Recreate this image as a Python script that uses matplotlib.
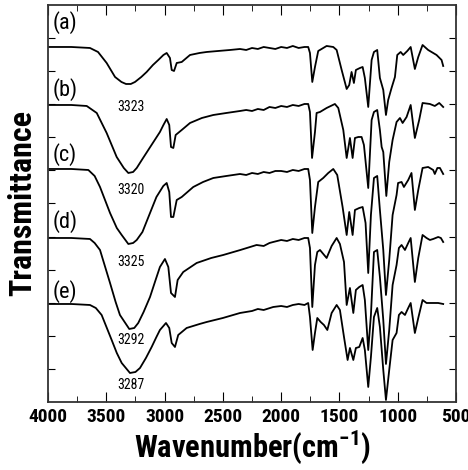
import matplotlib.pyplot as plt
from matplotlib import font_manager
import numpy as np

# FTIR spectra, transmittance in arbitrary units (stacked curves)
wn_a = [4000, 3800, 3640, 3571, 3497, 3425, 3370, 3331, 3290, 3254, 3200, 3154, 3100, 3054, 3010, 2982,
        2954, 2939, 2919, 2896, 2853, 2782, 2700, 2639, 2540, 2439, 2353, 2300, 2250, 2200, 2150, 2100,
        2050, 2000, 1950, 1900, 1850, 1800, 1768, 1753, 1733, 1710, 1682, 1639, 1610, 1553, 1524, 1481,
        1438, 1416, 1396, 1376, 1359, 1324, 1301, 1282, 1253, 1224, 1204, 1176, 1153, 1124, 1101, 1082,
        1053, 1024, 1004, 975, 953, 918, 889, 853, 824, 787, 739, 667, 624, 610]
tr_a = [355, 355, 354, 350, 339, 325, 320, 318, 318, 320, 325, 330, 337, 342, 347, 349,
        344, 332, 331, 339, 340, 347, 349, 350, 351, 352, 353, 352, 354, 353, 355, 354,
        353, 355, 354, 356, 354, 355, 355, 349, 320, 335, 351, 354, 356, 355, 352, 332,
        313, 317, 330, 319, 332, 334, 335, 324, 295, 342, 350, 352, 324, 312, 287, 302,
        314, 325, 347, 350, 347, 351, 355, 333, 345, 357, 352, 347, 342, 336]

wn_b = [4000, 3800, 3668, 3582, 3497, 3411, 3350, 3311, 3270, 3239, 3190, 3140, 3090, 3040, 3010, 2982,
        2960, 2945, 2925, 2905, 2853, 2782, 2680, 2582, 2470, 2353, 2300, 2250, 2200, 2150, 2100, 2050,
        2000, 1950, 1900, 1850, 1800, 1768, 1753, 1735, 1710, 1696, 1667, 1610, 1539, 1510, 1467, 1438,
        1410, 1387, 1367, 1338, 1310, 1290, 1253, 1224, 1204, 1176, 1153, 1138, 1124, 1098, 1073, 1044,
        1010, 981, 958, 924, 889, 853, 816, 787, 724, 682, 644, 610]
tr_b = [297, 297, 296, 289, 269, 245, 234, 229, 230, 234, 243, 252, 261, 270, 277, 283,
        277, 255, 254, 267, 272, 279, 284, 287, 289, 291, 292, 291, 293, 292, 295, 294,
        296, 295, 297, 296, 298, 298, 290, 244, 270, 289, 290, 294, 298, 294, 272, 244,
        264, 244, 264, 265, 265, 257, 214, 282, 290, 292, 272, 255, 250, 206, 240, 262,
        280, 284, 279, 285, 297, 264, 282, 299, 298, 296, 299, 295]

wn_c = [4000, 3800, 3654, 3600, 3554, 3468, 3410, 3368, 3311, 3270, 3239, 3190, 3125, 3070, 3011, 2982,
        2960, 2945, 2925, 2896, 2853, 2754, 2670, 2582, 2470, 2353, 2300, 2250, 2200, 2150, 2100, 2050,
        2000, 1950, 1900, 1850, 1800, 1768, 1753, 1733, 1710, 1682, 1639, 1596, 1553, 1519, 1473, 1438,
        1416, 1387, 1367, 1330, 1301, 1276, 1253, 1230, 1204, 1176, 1153, 1124, 1101, 1073, 1044, 1010,
        997, 967, 947, 910, 882, 853, 824, 787, 739, 696, 682, 660, 638, 610]
tr_c = [233, 233, 232, 226, 215, 189, 174, 167, 158, 159, 162, 170, 189, 205, 216, 219,
        210, 185, 185, 202, 205, 215, 220, 224, 226, 228, 227, 229, 228, 230, 229, 231,
        231, 230, 232, 231, 233, 233, 222, 169, 195, 220, 224, 229, 233, 227, 195, 167,
        190, 167, 192, 194, 195, 179, 129, 187, 224, 226, 192, 152, 107, 142, 187, 207,
        219, 220, 215, 222, 229, 192, 212, 234, 235, 232, 228, 234, 234, 228]

wn_d = [4000, 3800, 3640, 3600, 3554, 3468, 3420, 3383, 3303, 3260, 3226, 3180, 3125, 3080, 3040, 2997,
        2968, 2945, 2911, 2888, 2840, 2725, 2600, 2497, 2350, 2211, 2150, 2100, 2068, 2000, 1950, 1900,
        1850, 1800, 1768, 1753, 1733, 1710, 1690, 1667, 1610, 1567, 1524, 1496, 1461, 1438, 1410, 1381,
        1359, 1330, 1301, 1282, 1253, 1230, 1204, 1176, 1153, 1124, 1101, 1073, 1044, 1010, 990, 967,
        938, 910, 889, 853, 824, 787, 753, 724, 696, 653, 630, 610]
tr_d = [164, 164, 163, 159, 152, 119, 100, 87, 73, 74, 79, 90, 105, 121, 135, 143,
        135, 109, 105, 122, 130, 139, 144, 147, 152, 157, 156, 159, 160, 162, 161, 163,
        162, 164, 164, 154, 95, 137, 150, 152, 144, 156, 164, 158, 140, 97, 114, 89,
        112, 115, 117, 102, 52, 87, 150, 152, 125, 82, 38, 72, 117, 137, 154, 157,
        152, 159, 164, 120, 144, 167, 164, 162, 163, 165, 164, 160]

wn_e = [4000, 3800, 3640, 3590, 3540, 3454, 3410, 3368, 3297, 3250, 3211, 3160, 3111, 3070, 3040, 2988,
        2960, 2939, 2911, 2883, 2811, 2700, 2639, 2500, 2353, 2250, 2200, 2150, 2068, 2000, 1950, 1900,
        1850, 1800, 1768, 1753, 1730, 1710, 1690, 1661, 1633, 1604, 1567, 1524, 1496, 1461, 1430, 1410,
        1381, 1359, 1330, 1301, 1282, 1253, 1230, 1204, 1176, 1153, 1124, 1101, 1073, 1044, 1010, 990,
        967, 938, 910, 889, 853, 824, 787, 753, 696, 653, 610]
tr_e = [98, 98, 97, 94, 87, 62, 49, 39, 29, 30, 34, 44, 55, 65, 72, 79,
        74, 59, 55, 67, 74, 78, 80, 84, 89, 91, 93, 92, 95, 96, 95, 97,
        98, 97, 99, 85, 52, 69, 84, 80, 77, 72, 89, 97, 92, 65, 42, 54,
        42, 54, 55, 64, 52, 15, 45, 85, 94, 75, 32, 2, 32, 62, 69, 87,
        90, 87, 94, 99, 69, 84, 102, 99, 99, 99, 98]

spectra = [(wn_a, tr_a), (wn_b, tr_b), (wn_c, tr_c), (wn_d, tr_d), (wn_e, tr_e)]

# sample names and O-H band positions
names = ['(a)', '(b)', '(c)', '(d)', '(e)']
name_y = [379, 312, 247, 180, 110]
peaks = ['3323', '3320', '3325', '3292', '3287']
peak_y = [295, 212, 140, 62, 17]

# pick a narrow sans if there is one
have = {f.name for f in font_manager.fontManager.ttflist}
cands = ['Roboto Condensed', 'PT Sans Narrow', 'Archivo Narrow', 'Liberation Sans Narrow',
         'Open Sans Condensed', 'Liberation Sans']
fname = next((c for c in cands if c in have), 'DejaVu Sans')
font = [fname, 'DejaVu Sans']
plt.rcParams['mathtext.fontset'] = 'custom'
plt.rcParams['mathtext.rm'] = fname
plt.rcParams['mathtext.bf'] = fname + ':bold'

fig = plt.figure(figsize=(4.68, 4.70), dpi=100)
ax = fig.add_axes([0.1026, 0.1447, 0.8718, 0.8447])

for wn, tr in spectra:
    ax.plot(wn, tr, c='black', lw=1.3)

for name, y in zip(names, name_y):
    ax.text(3854, y, name, ha='center', va='center', fontsize=16, family=font)
for p, y in zip(peaks, peak_y):
    ax.text(3290, y, p, ha='center', va='center', fontsize=10, family=font)

ax.set_xlim(4000, 500)
ax.set_ylim(0, 397)
ax.set_xticks(np.arange(4000, 499, -500))
ax.set_xticks(np.arange(4000, 499, -250), minor=True)
ax.set_yticks(np.linspace(0, 397, 13)[1:-1])
ax.set_yticklabels([])
ax.tick_params(axis='x', which='major', direction='in', length=7, top=True, labelsize=14, pad=4)
ax.tick_params(axis='x', which='minor', direction='in', length=4, top=True)
ax.tick_params(axis='y', direction='in', length=5, right=True, left=True)
for lab in ax.get_xticklabels():
    lab.set_family(font)
    lab.set_weight('bold')
for s in ax.spines.values():
    s.set_linewidth(1.3)
    s.set_color('#333333')

ax.set_xlabel(r'Wavenumber(cm$^{\mathbf{-1}}$)', fontsize=22, fontweight='bold', family=font, labelpad=2)
ax.set_ylabel('Transmittance', fontsize=23, fontweight='bold', family=font, labelpad=4)

fig.savefig('out.png', dpi=100)
